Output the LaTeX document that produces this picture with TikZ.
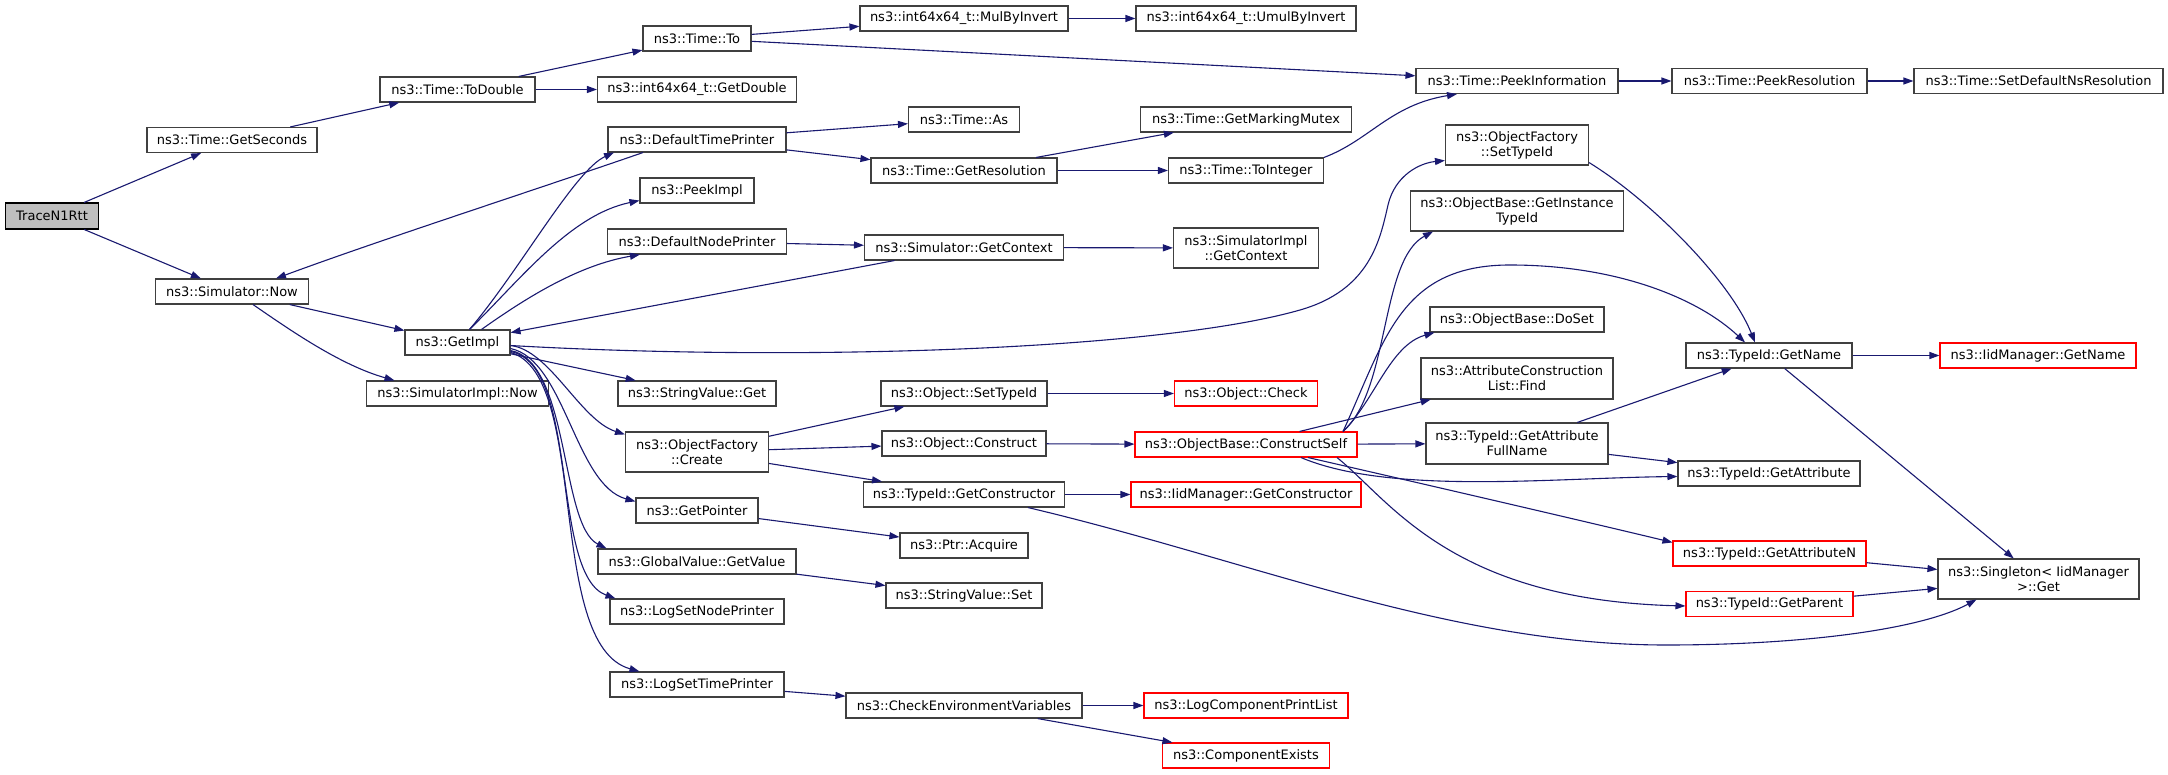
\documentclass[tikz,border=0pt]{standalone}
\usepackage{fontspec}
\setmainfont{DejaVu Sans}
\usetikzlibrary{arrows.meta}
\definecolor{edgeblue}{HTML}{191970}
\definecolor{boxgray}{HTML}{404040}
\definecolor{rootfill}{HTML}{BFBFBF}
\begin{document}
\begin{tikzpicture}[x=1pt,y=-1pt,
  fn/.style={draw=boxgray, line width=1.1pt, fill=white, minimum height=25pt, inner sep=0pt, align=center, font=\fontsize{13}{15}\selectfont},
  tn/.style={fn, minimum height=40pt},
  rn/.style={fn, draw=red},
  rootn/.style={fn, draw=black, fill=rootfill},
  edg/.style={draw=edgeblue, line width=1.1pt, -{Triangle[length=10pt,width=7pt]}}]
\fill[white] (0,0) rectangle (2168,775);
\useasboundingbox (0,0) rectangle (2168,775);

% column 1-3
\node[rootn, minimum width=93pt, minimum height=26pt] (root) at (52,216) {TraceN1Rtt};
\node[fn, minimum width=170pt] (gs) at (232,140) {ns3::Time::GetSeconds};
\node[fn, minimum width=153pt] (sn) at (232,291.5) {ns3::Simulator::Now};
\node[fn, minimum width=155pt] (td) at (457.5,89.5) {ns3::Time::ToDouble};
\node[fn, minimum width=105pt] (gi) at (457.5,342.5) {ns3::GetImpl};
\node[fn, minimum width=182pt] (sin) at (457.5,393.5) {ns3::SimulatorImpl::Now};
% column 4
\node[fn, minimum width=108pt] (to) at (697,38.5) {ns3::Time::To};
\node[fn, minimum width=199pt] (gd) at (697,89.5) {ns3::int64x64\_t::GetDouble};
\node[fn, minimum width=178pt] (dtp) at (697,139.5) {ns3::DefaultTimePrinter};
\node[fn, minimum width=114pt] (pimpl) at (697,190.5) {ns3::PeekImpl};
\node[fn, minimum width=179pt] (dnp) at (697,241.5) {ns3::DefaultNodePrinter};
\node[fn, minimum width=158pt] (svg) at (697,393.5) {ns3::StringValue::Get};
\node[tn, minimum width=143pt] (ofc) at (697,452) {ns3::ObjectFactory\\::Create};
\node[fn, minimum width=122pt] (gp) at (697,510.5) {ns3::GetPointer};
\node[fn, minimum width=198pt] (gv) at (697,561.5) {ns3::GlobalValue::GetValue};
\node[fn, minimum width=174pt] (lsnp) at (697,611.5) {ns3::LogSetNodePrinter};
\node[fn, minimum width=174pt] (lstp) at (697,684.5) {ns3::LogSetTimePrinter};
% column 5
\node[fn, minimum width=208pt] (mbi) at (964,18.5) {ns3::int64x64\_t::MulByInvert};
\node[fn, minimum width=111pt] (tas) at (964,119.5) {ns3::Time::As};
\node[fn, minimum width=186pt] (gres) at (964,170.5) {ns3::Time::GetResolution};
\node[fn, minimum width=199pt] (sgc) at (964,247.5) {ns3::Simulator::GetContext};
\node[fn, minimum width=166pt] (ostid) at (964,393.5) {ns3::Object::SetTypeId};
\node[fn, minimum width=164pt] (ocon) at (964,443.5) {ns3::Object::Construct};
\node[fn, minimum width=201pt] (tgc) at (964,494.5) {ns3::TypeId::GetConstructor};
\node[fn, minimum width=128pt] (pacq) at (964,545.5) {ns3::Ptr::Acquire};
\node[fn, minimum width=156pt] (svs) at (964,595.5) {ns3::StringValue::Set};
\node[fn, minimum width=236pt] (cev) at (964,705.5) {ns3::CheckEnvironmentVariables};
% column 6
\node[fn, minimum width=220pt] (umbi) at (1246,18.5) {ns3::int64x64\_t::UmulByInvert};
\node[fn, minimum width=211pt] (gmm) at (1246,119.5) {ns3::Time::GetMarkingMutex};
\node[fn, minimum width=155pt] (tint) at (1246,170.5) {ns3::Time::ToInteger};
\node[tn, minimum width=145pt] (sigc) at (1246,248) {ns3::SimulatorImpl\\::GetContext};
\node[rn, minimum width=143pt] (ochk) at (1246,393.5) {ns3::Object::Check};
\node[rn, minimum width=222pt] (cs) at (1246,444.5) {ns3::ObjectBase::ConstructSelf};
\node[rn, minimum width=230pt] (igc) at (1246,494.5) {ns3::IidManager::GetConstructor};
\node[rn, minimum width=204pt] (lcpl) at (1246,705.5) {ns3::LogComponentPrintList};
\node[rn, minimum width=167pt] (ce) at (1246,755.5) {ns3::ComponentExists};
% column 7
\node[fn, minimum width=202pt] (pinf) at (1517,81) {ns3::Time::PeekInformation};
\node[tn, minimum width=143pt] (ofst) at (1517,145) {ns3::ObjectFactory\\::SetTypeId};
\node[tn, minimum width=213pt] (gitid) at (1517,211) {ns3::ObjectBase::GetInstance\\TypeId};
\node[fn, minimum width=174pt] (dos) at (1517,319.5) {ns3::ObjectBase::DoSet};
\node[tn, minimum width=192pt, minimum height=41pt] (acl) at (1517,378.5) {ns3::AttributeConstruction\\List::Find};
\node[tn, minimum width=182pt, minimum height=41pt] (gafn) at (1517,443.5) {ns3::TypeId::GetAttribute\\FullName};
% column 8
\node[fn, minimum width=195pt] (pres) at (1769.5,81) {ns3::Time::PeekResolution};
\node[fn, minimum width=166pt] (gn) at (1769,355.5) {ns3::TypeId::GetName};
\node[fn, minimum width=182pt] (ga) at (1769,473.5) {ns3::TypeId::GetAttribute};
\node[rn, minimum width=193pt] (gan) at (1769.5,553.5) {ns3::TypeId::GetAttributeN};
\node[rn, minimum width=167pt] (gpar) at (1769.5,604) {ns3::TypeId::GetParent};
% column 9
\node[fn, minimum width=249pt] (sdns) at (2038.5,81) {ns3::Time::SetDefaultNsResolution};
\node[rn, minimum width=196pt] (ign) at (2038,355.5) {ns3::IidManager::GetName};
\node[tn, minimum width=201pt] (sing) at (2038.5,579) {ns3::Singleton< IidManager\\>::Get};

% edges
\draw[edg] (root) -- (gs);
\draw[edg] (root) -- (sn);
\draw[edg] (gs) -- (td);
\draw[edg] (td) -- (to);
\draw[edg] (td) -- (gd);
\draw[edg] (to) -- (mbi);
\draw[edg] (to) -- (pinf);
\draw[edg] (mbi) -- (umbi);
\draw[edg] (pinf) -- (pres);
\draw[edg] (pres) -- (sdns);
\draw[edg] (sn) -- (gi);
\draw[edg] ([xshift=21]sn.south) .. controls (290,330) and (340,365) .. ([xshift=-63]sin.north);
\draw[edg] ([xshift=12]gi.north) .. controls (520,270) and (575,170) .. ([xshift=-83]dtp.south);
\draw[edg] ([xshift=-54]dtp.south) .. controls (520,195) and (380,240) .. ([xshift=44]sn.north);
\draw[edg] (dtp) -- (tas);
\draw[edg] (dtp) -- (gres);
\draw[edg] (gres) -- (gmm);
\draw[edg] (gres) -- (tint);
\draw[edg] (tint.north east) .. controls (1370,140) and (1390,105) .. ([xshift=-60]pinf.south);
\draw[edg] ([xshift=12]gi.north) .. controls (520,280) and (570,215) .. ([yshift=3]pimpl.south west);
\draw[edg] ([xshift=24]gi.north) .. controls (530,295) and (580,265) .. ([xshift=33]dnp.south west);
\draw[edg] (dnp) -- (sgc);
\draw[edg] (sgc) -- (gi);
\draw[edg] (sgc) -- (sigc);
\draw[edg] (gi) .. controls (800,362) and (1160,350) .. (1300,310) .. controls (1370,290) and (1380,240) .. (1388,205) .. controls (1395,175) and (1420,163) .. ([yshift=5]ofst.south west);
\draw[edg] (gi) -- (svg);
\draw[edg] ([yshift=-3]gi.east) .. controls (550,350) and (580,420) .. ([yshift=-3]ofc.north west);
\draw[edg] ([yshift=-6]gi.east) .. controls (565,360) and (575,485) .. ([yshift=-4]gp.north west);
\draw[edg] ([yshift=-8]gi.east) .. controls (570,362) and (560,525) .. ([xshift=9]gv.north west);
\draw[edg] ([yshift=-9]gi.east) .. controls (580,365) and (550,575) .. ([xshift=6]lsnp.north west);
\draw[edg] ([yshift=-10]gi.east) .. controls (590,375) and (545,645) .. ([xshift=30]lstp.north west);
\draw[edg] (ofc) -- (ostid);
\draw[edg] (ofc) -- (ocon);
\draw[edg] (ofc) -- (tgc);
\draw[edg] (ostid) -- (ochk);
\draw[edg] (ocon) -- (cs);
\draw[edg] (tgc) -- (igc);
\draw[edg] ([xshift=64]tgc.south) .. controls (1250,560) and (1450,645) .. (1666,645) .. controls (1800,645) and (1920,630) .. ([xshift=-62]sing.south);
\draw[edg] (gp) -- (pacq);
\draw[edg] (gv) -- (svs);
\draw[edg] (lstp) -- (cev);
\draw[edg] (cev) -- (lcpl);
\draw[edg] (cev) -- (ce);
\draw[edg] ([xshift=97]cs.north) .. controls (1390,390) and (1380,260) .. ([xshift=-84]gitid.south);
\draw[edg] ([xshift=97]cs.north) .. controls (1375,400) and (1390,345) .. ([xshift=5]dos.south west);
\draw[edg] ([xshift=97]cs.north) .. controls (1385,340) and (1400,265) .. (1510,265) .. controls (1620,265) and (1700,300) .. ([xshift=-24]gn.north);
\draw[edg] (cs) -- (acl);
\draw[edg] (cs) -- (gafn);
\draw[edg] ([xshift=55]cs.south) .. controls (1390,495) and (1550,478) .. ([yshift=-3]ga.west);
\draw[edg] ([xshift=62]cs.south) .. controls (1450,490) and (1600,525) .. ([yshift=-2]gan.north west);
\draw[edg] ([xshift=91]cs.south) .. controls (1390,500) and (1450,600) .. ([yshift=-2]gpar.west);
\draw[edg] ([yshift=3]ofst.south east) .. controls (1650,200) and (1730,280) .. ([xshift=-14]gn.north);
\draw[edg] (gafn) -- (gn);
\draw[edg] (gafn) -- (ga);
\draw[edg] (gn) -- (ign);
\draw[edg] (gn) -- (sing);
\draw[edg] (gan) -- (sing);
\draw[edg] (gpar) -- (sing);
\end{tikzpicture}
\end{document}
